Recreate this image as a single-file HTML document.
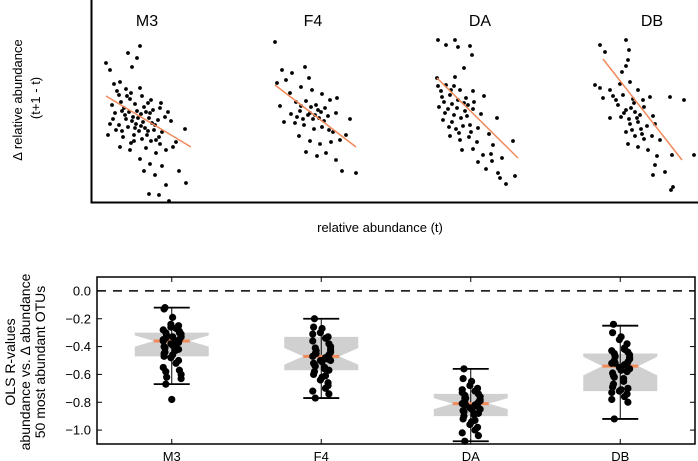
<!DOCTYPE html>
<html><head><meta charset="utf-8"><style>
html,body{margin:0;padding:0;background:#fff}
svg{display:block;font-family:"Liberation Sans","DejaVu Sans",sans-serif}
</style></head><body>
<svg id="fig" width="698" height="461" viewBox="0 0 698 461" xmlns="http://www.w3.org/2000/svg">
<g id="top">
<line x1="91.5" y1="0" x2="91.5" y2="202.5" stroke="#000" stroke-width="2"/>
<line x1="90.5" y1="202.5" x2="698" y2="202.5" stroke="#000" stroke-width="2"/>
<text x="380" y="232" font-size="13" text-anchor="middle">relative abundance (t)</text>
<text transform="translate(22,100) rotate(-90)" font-size="13" text-anchor="middle">Δ relative abundance</text>
<text transform="translate(40,98) rotate(-90)" font-size="13" text-anchor="middle">(t+1 - t)</text>
</g>
<g id="bottom">
<text transform="translate(15,362) rotate(-90)" font-size="14" text-anchor="middle">OLS R-values</text>
<text transform="translate(30,362) rotate(-90)" font-size="14" text-anchor="middle">abundance vs. Δ abundance</text>
<text transform="translate(45,362) rotate(-90)" font-size="14" text-anchor="middle">50 most abundant OTUs</text>
</g>
</svg>
<script>
// ---- top scatter data ----
const panelNames = ["M3","F4","DA","DB"];
const scatterM3 = [[0.6,5.2],[1.0,4.5],[3.2,4.8],[2.8,6.2],[3.7,5.7],[4.0,6.9],[1.4,3.1],[2.0,3.3],[2.6,2.6],[1.9,2.0],[3.1,2.2],[4.2,1.9],[5.1,1.5],[6.1,1.2],[1.2,1.0],[2.1,1.3],[3.5,1.1],[4.4,0.8],[5.3,0.5],[6.8,0.3],[1.5,0.2],[2.5,0.0],[3.3,-0.2],[4.1,0.1],[4.9,-0.3],[5.8,-0.5],[6.5,-0.2],[7.1,-0.6],[1.0,-0.9],[1.9,-1.0],[2.8,-1.2],[3.6,-0.9],[4.5,-1.3],[5.4,-1.5],[6.2,-1.7],[0.8,-2.0],[2.3,-2.2],[3.4,-2.0],[4.2,-2.4],[5.1,-2.6],[6.0,-2.9],[7.6,-2.7],[8.5,-1.4],[2.0,-3.2],[3.0,-3.5],[4.6,-3.3],[5.6,-3.8],[6.6,-3.5],[7.3,-3.2],[4.0,-4.4],[5.0,-4.9],[6.2,-5.1],[7.9,-5.6],[4.4,-5.6],[5.5,-6.0],[6.6,-7.0],[4.9,-7.9],[5.9,-8.0],[6.9,-8.6],[8.6,-6.8],[2.6,-0.4],[3.9,-1.6],[5.0,0.2],[2.2,-1.6],[3.7,0.4],[4.7,-2.0],[6.0,0.7],[1.6,-1.5],[3.0,1.6],[4.0,2.7],[5.5,-1.0],[1.3,-0.4],[2.4,0.7],[3.2,-0.6],[4.3,-0.7],[4.8,-1.6],[5.9,-2.2],[3.1,-2.8],[2.7,1.9],[1.7,2.4],[2.9,0.3],[3.8,-0.3],[4.6,0.3],[5.2,-0.8],[3.5,-1.3],[4.1,-1.1],[2.2,0.4],[4.8,1.2],[3.4,-2.6],[5.6,-2.5]];
const scatterF4 = [[0.5,6.8],[1.2,4.0],[0.7,2.7],[2.2,3.7],[1.6,3.0],[3.5,4.3],[3.9,3.2],[3.1,2.3],[2.0,1.7],[4.2,2.0],[5.2,1.6],[6.0,1.0],[6.7,1.2],[1.0,0.4],[2.6,0.8],[3.6,0.9],[4.6,0.5],[5.5,0.2],[2.1,-0.4],[3.0,-0.1],[4.0,-0.3],[4.9,-0.8],[5.8,-0.6],[6.6,-0.3],[8.0,-0.9],[1.4,-1.2],[2.5,-1.3],[3.4,-1.5],[4.4,-1.9],[5.2,-1.7],[6.3,-2.2],[7.6,-2.5],[2.9,-2.6],[4.0,-3.1],[5.0,-3.4],[6.1,-3.2],[7.0,-3.0],[3.6,-4.2],[4.7,-4.6],[5.6,-4.3],[6.6,-5.0],[8.6,-6.3],[7.2,-6.1],[5.9,-2.0],[3.1,0.4],[4.3,-0.9],[3.8,-0.5],[4.8,0.0],[2.7,-0.7],[5.4,-1.1],[4.5,-0.5],[3.3,-0.9],[4.1,0.3],[5.1,-0.2]];
const scatterDA = [[0.8,7.0],[1.6,6.5],[2.5,7.0],[2.8,6.3],[4.0,6.4],[4.2,5.5],[2.5,3.3],[3.4,4.2],[0.7,3.2],[0.8,2.4],[1.6,2.5],[2.4,2.4],[3.0,2.0],[4.3,1.9],[1.2,1.3],[2.0,1.5],[2.8,1.0],[3.6,1.2],[4.4,0.8],[5.4,1.4],[0.9,0.3],[1.8,0.1],[2.7,0.2],[3.5,-0.1],[4.3,0.1],[5.1,-0.4],[6.7,-0.8],[1.3,-1.0],[2.2,-1.2],[3.1,-0.8],[4.0,-1.5],[4.8,-1.8],[5.9,-2.4],[2.0,-2.6],[3.0,-3.0],[3.9,-2.7],[4.7,-3.2],[6.3,-3.5],[8.3,-3.1],[3.2,-4.0],[4.3,-3.9],[5.3,-4.5],[6.2,-5.1],[7.2,-4.8],[6.8,-6.3],[7.0,-6.8],[8.5,-6.6],[7.6,-7.4],[4.8,-5.2],[5.6,-5.9],[6.1,-4.4],[2.6,-1.9],[3.8,0.5],[1.5,-0.3],[1.1,1.9],[2.2,0.6],[3.3,-1.6],[4.1,-2.2],[1.9,-1.7],[2.9,-2.3],[1.4,0.8],[2.4,-0.5],[3.4,0.7],[2.1,2.0],[3.7,-0.6]];
const scatterDB = [[1.0,6.5],[1.5,5.8],[3.6,7.0],[3.9,6.0],[3.8,5.0],[3.6,4.4],[3.2,3.8],[0.5,2.5],[1.0,2.2],[2.0,2.0],[3.0,2.6],[4.0,2.8],[4.8,2.0],[1.3,1.2],[2.3,1.4],[3.3,1.5],[4.3,1.1],[5.3,1.0],[6.0,1.3],[8.0,1.3],[9.4,1.0],[2.8,0.5],[3.6,0.0],[4.5,-0.2],[5.4,0.3],[6.3,-0.6],[2.0,-0.8],[3.1,-0.7],[4.0,-1.4],[4.8,-1.2],[5.7,-1.6],[6.5,-1.4],[3.6,-2.2],[4.5,-2.6],[5.4,-2.9],[6.2,-2.6],[7.0,-3.0],[3.8,-3.4],[4.8,-3.7],[5.8,-4.0],[6.7,-4.6],[8.2,-4.5],[10.4,-4.5],[6.5,-5.5],[6.3,-6.5],[7.5,-6.2],[8.3,-7.7],[8.1,-8.0],[5.0,-0.5],[4.4,0.7],[3.9,-0.9],[5.1,-1.9],[4.2,-2.0],[2.6,1.0],[4.1,0.2],[3.4,-0.3],[4.7,-0.8],[5.2,-2.4]];
const fitStart = [[0.6,1.9],[0.5,2.5],[0.7,3.2],[1.3,5.1]];
const fitEnd = [[9.1,-3.2],[8.6,-3.7],[8.8,-4.8],[9.2,-5.0]];
// ---- bottom boxplot data ----
const groups = ["M3","F4","DA","DB"];
const rM3 = [-0.12,-0.13,-0.19,-0.24,-0.25,-0.27,-0.28,-0.29,-0.3,-0.31,-0.32,-0.33,-0.34,-0.35,-0.36,-0.36,-0.37,-0.38,-0.39,-0.4,-0.41,-0.42,-0.43,-0.44,-0.45,-0.46,-0.48,-0.5,-0.52,-0.55,-0.57,-0.58,-0.6,-0.62,-0.63,-0.67,-0.3,-0.35,-0.38,-0.42,-0.26,-0.33,-0.47];
const rF4 = [-0.2,-0.26,-0.27,-0.3,-0.33,-0.34,-0.36,-0.38,-0.41,-0.42,-0.43,-0.44,-0.45,-0.46,-0.47,-0.48,-0.49,-0.5,-0.51,-0.52,-0.53,-0.55,-0.56,-0.58,-0.6,-0.62,-0.64,-0.66,-0.7,-0.72,-0.74,-0.77,-0.4,-0.45,-0.5,-0.54,-0.57,-0.31,-0.61,-0.68];
const rDA = [-0.56,-0.63,-0.65,-0.68,-0.7,-0.72,-0.73,-0.74,-0.75,-0.76,-0.77,-0.78,-0.79,-0.8,-0.81,-0.82,-0.83,-0.84,-0.85,-0.86,-0.87,-0.88,-0.89,-0.9,-0.92,-0.94,-0.96,-0.98,-1.0,-1.02,-1.04,-1.08,-0.79,-0.82,-0.85,-0.77,-0.88,-0.71,-0.93,-0.81];
const rDB = [-0.24,-0.3,-0.33,-0.35,-0.38,-0.41,-0.43,-0.44,-0.45,-0.46,-0.47,-0.49,-0.5,-0.51,-0.52,-0.53,-0.54,-0.55,-0.57,-0.59,-0.61,-0.63,-0.65,-0.67,-0.69,-0.71,-0.72,-0.74,-0.76,-0.78,-0.8,-0.92,-0.48,-0.52,-0.56,-0.62,-0.7,-0.73,-0.42,-0.58];
const boxQ1 = [-0.47,-0.57,-0.90,-0.72];
const boxQ3 = [-0.30,-0.33,-0.74,-0.45];
const boxMed = [-0.36,-0.47,-0.81,-0.54];
const whiskLo = [-0.67,-0.77,-1.08,-0.92];
const whiskHi = [-0.12,-0.20,-0.56,-0.25];
const outliers = [[-0.78],[],[],[]];
const yTicks = [0.0,-0.2,-0.4,-0.6,-0.8,-1.0];
const yTickLabels = ["0.0","\u22120.2","\u22120.4","\u22120.6","\u22120.8","\u22121.0"];

const NS = "http://www.w3.org/2000/svg";
const svg = document.getElementById("fig");
const topG = document.getElementById("top");
const botG = document.getElementById("bottom");
function mk(tag, attrs, parent){const e=document.createElementNS(NS,tag);for(const k in attrs)e.setAttribute(k,attrs[k]);parent.appendChild(e);return e;}

const panelX0 = [100,270,430,590];
const panelYC = [115,110,110,110];
const panelTitleX = [147,313,480,652];
function sx(p,v){return panelX0[p]+v*10;}
function sy(p,v){return panelYC[p]-v*10;}
const scatters = [scatterM3,scatterF4,scatterDA,scatterDB];
scatters.forEach((pts,p)=>{
  const t = mk("text",{x:panelTitleX[p],y:26,"font-size":16,"text-anchor":"middle"},topG);
  t.textContent = panelNames[p];
  
  
  pts.forEach(pt=>{
    const c = mk("circle",{cx:sx(p,pt[0]),cy:sy(p,pt[1]),r:1.9,fill:"#000"},topG);
    
    
  });
  const l = mk("line",{x1:sx(p,fitStart[p][0]),y1:sy(p,fitStart[p][1]),x2:sx(p,fitEnd[p][0]),y2:sy(p,fitEnd[p][1]),stroke:"#f08a5a","stroke-width":1.5},topG);
  
  
});

const L=97,R=695,T=277,B=444;
function bx(i){return L+(i+0.5)*(R-L)/4;}
function by(v){return T+(0.1-v)/1.2*(B-T);}
const frame = mk("rect",{x:L,y:T,width:R-L,height:B-T,fill:"none",stroke:"#000","stroke-width":1.5},botG);


const zl = mk("line",{x1:L,y1:by(0),x2:R,y2:by(0),stroke:"#000","stroke-width":1.5,"stroke-dasharray":"9,7"},botG);


yTicks.forEach((v,i)=>{
  const y=by(v);
  mk("line",{x1:L,y1:y,x2:L+5,y2:y,stroke:"#000"},botG);
  mk("line",{x1:R-5,y1:y,x2:R,y2:y,stroke:"#000"},botG);
  const t = mk("text",{x:L-6,y:y+4.5,"font-size":13,"text-anchor":"end"},botG);
  t.textContent = yTickLabels[i];
  
  
});
const data=[rM3,rF4,rDA,rDB];
groups.forEach((g,i)=>{
  const cx=bx(i), hw=37, nw=18;
  mk("line",{x1:cx,y1:T,x2:cx,y2:T+5,stroke:"#000"},botG);
  mk("line",{x1:cx,y1:B-5,x2:cx,y2:B,stroke:"#000"},botG);
  const n=data[i].length, iqr=boxQ3[i]-boxQ1[i], nd=1.57*iqr/Math.sqrt(n);
  const nHi=boxMed[i]+nd, nLo=boxMed[i]-nd;
  const d=`M${cx-hw},${by(boxQ3[i])} L${cx+hw},${by(boxQ3[i])} L${cx+hw},${by(nHi)} L${cx+nw},${by(boxMed[i])} L${cx+hw},${by(nLo)} L${cx+hw},${by(boxQ1[i])} L${cx-hw},${by(boxQ1[i])} L${cx-hw},${by(nLo)} L${cx-nw},${by(boxMed[i])} L${cx-hw},${by(nHi)} Z`;
  const box = mk("path",{d:d,fill:"#d0d0d0",stroke:"none"},botG);
  
  
  const wl = mk("line",{x1:cx,y1:by(whiskHi[i]),x2:cx,y2:by(whiskLo[i]),stroke:"#000","stroke-width":1},botG);
  
  
  [whiskHi[i],whiskLo[i]].forEach(v=>{
    const c = mk("line",{x1:cx-18,y1:by(v),x2:cx+18,y2:by(v),stroke:"#000","stroke-width":1.8},botG);
    
    
  });
  const md = mk("line",{x1:cx-nw,y1:by(boxMed[i]),x2:cx+nw,y2:by(boxMed[i]),stroke:"#f08a5a","stroke-width":3},botG);
  
  
  data[i].forEach((v,k)=>{
    const j=(((k*k*17+k*5+3)%23)-11)*0.85;
    const c = mk("circle",{cx:cx+j,cy:by(v),r:3.6,fill:"#000"},botG);
    
    
  });
  outliers[i].forEach(v=>{
    const c = mk("circle",{cx:cx,cy:by(v),r:3.6,fill:"#000"},botG);
    
    
  });
  const t = mk("text",{x:cx,y:B+17,"font-size":13,"text-anchor":"middle"},botG);
  t.textContent = g;
  
  
});
</script>
</body></html>
